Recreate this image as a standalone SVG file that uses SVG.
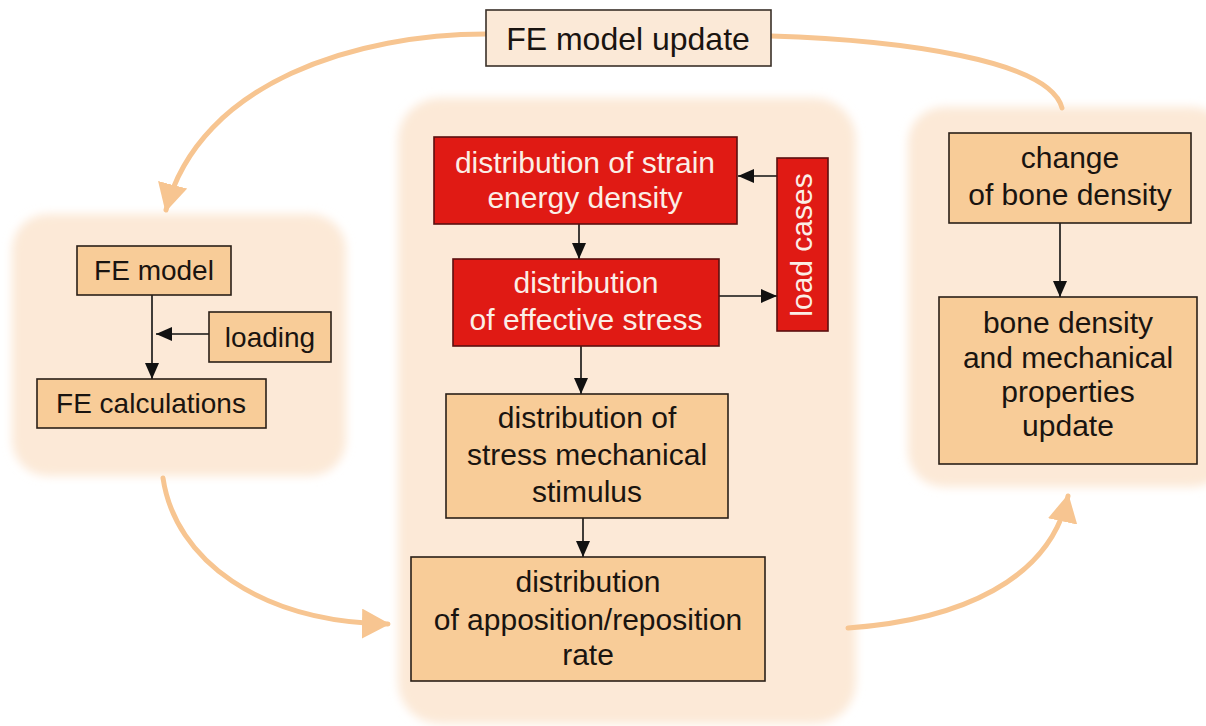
<svg xmlns="http://www.w3.org/2000/svg" width="1206" height="726" viewBox="0 0 1206 726">
<style>
.bg{fill:#fce9d7;filter:url(#soft)}
.box{fill:#f8cc98;stroke:#2a2018;stroke-width:1.6}
.top{fill:#fbe9d7;stroke:#3a3028;stroke-width:1.6}
.red{fill:#e01a14;stroke:#5a1010;stroke-width:1.6}
text{font-family:"Liberation Sans",Arial,sans-serif;font-size:30px;text-anchor:middle}
.dk{fill:#1a1410}
.wt{fill:#fbeee6}
.blk{stroke:#111;stroke-width:1.6;fill:none}
.pch{stroke:#f7c591;stroke-width:5;fill:none;stroke-linecap:round}
</style>
<defs>
<filter id="soft" x="-10%" y="-10%" width="120%" height="120%"><feGaussianBlur stdDeviation="5"/></filter>
<marker id="ab" viewBox="0 0 16 14" refX="16" refY="7" markerWidth="16" markerHeight="14" markerUnits="userSpaceOnUse" orient="auto"><path d="M0,0 L16,7 L0,14 z" fill="#111"/></marker>
<marker id="ap" viewBox="0 0 28 30" refX="26" refY="15" markerWidth="28" markerHeight="30" markerUnits="userSpaceOnUse" orient="auto"><path d="M0,0 L28,15 L0,30 z" fill="#f7c591"/></marker>
</defs>
<rect width="1206" height="726" fill="#fff"/>
<g id="containers">
<rect class="bg" x="12" y="214" width="334" height="262" rx="36"/>
<rect class="bg" x="398" y="98" width="458" height="626" rx="42"/>
<rect class="bg" x="908" y="107" width="320" height="380" rx="36"/>
</g>
<g id="connectors">
<path class="pch" d="M486 34 C360 34 200 80 166 210" marker-end="url(#ap)"/>
<path class="pch" d="M771 36 C900 40 1050 60 1062 108"/>
<path class="pch" d="M163 478 C175 560 260 622 388 624" marker-end="url(#ap)"/>
<path class="pch" d="M848 628 C960 620 1050 580 1068 496" marker-end="url(#ap)"/>
<path class="blk" d="M152 295 V379" marker-end="url(#ab)"/>
<path class="blk" d="M209 334 H156" marker-end="url(#ab)"/>
<path class="blk" d="M777 176 H738" marker-end="url(#ab)"/>
<path class="blk" d="M579 224 V259" marker-end="url(#ab)"/>
<path class="blk" d="M719 296 H777" marker-end="url(#ab)"/>
<path class="blk" d="M581 346 V394" marker-end="url(#ab)"/>
<path class="blk" d="M583 518 V557" marker-end="url(#ab)"/>
<path class="blk" d="M1060 223 V297" marker-end="url(#ab)"/>
</g>
<g id="fe-model-update"><rect class="top" x="486" y="10" width="285" height="56"/><text class="dk" x="628" y="50" style="font-size:32px">FE model update</text></g>
<g id="fe-model"><rect class="box" x="77" y="246" width="154" height="49"/><text class="dk" x="154" y="280" style="font-size:28px">FE model</text></g>
<g id="loading"><rect class="box" x="209" y="312" width="122" height="50"/><text class="dk" x="270" y="347" style="font-size:28px">loading</text></g>
<g id="fe-calculations"><rect class="box" x="37" y="379" width="229" height="49"/><text class="dk" x="151" y="413" style="font-size:28px">FE calculations</text></g>
<g id="strain-energy"><rect class="red" x="434" y="137" width="303" height="87"/><text class="wt" x="585" y="173">distribution of strain</text><text class="wt" x="585" y="208">energy density</text></g>
<g id="effective-stress"><rect class="red" x="453" y="259" width="266" height="87"/><text class="wt" x="586" y="293">distribution</text><text class="wt" x="586" y="330">of effective stress</text></g>
<g id="load-cases"><rect class="red" x="777" y="158" width="51" height="173"/><text class="wt" transform="translate(812 245) rotate(-90)" x="0" y="0">load cases</text></g>
<g id="stimulus"><rect class="box" x="446" y="394" width="282" height="124"/><text class="dk" x="587" y="428">distribution of</text><text class="dk" x="587" y="465">stress mechanical</text><text class="dk" x="587" y="502">stimulus</text></g>
<g id="apposition"><rect class="box" x="411" y="557" width="354" height="124"/><text class="dk" x="588" y="592">distribution</text><text class="dk" x="588" y="630">of apposition/reposition</text><text class="dk" x="588" y="665">rate</text></g>
<g id="change-density"><rect class="box" x="949" y="133" width="242" height="90"/><text class="dk" x="1070" y="168">change</text><text class="dk" x="1070" y="205">of bone density</text></g>
<g id="density-update"><rect class="box" x="939" y="297" width="258" height="167"/><text class="dk" x="1068" y="333">bone density</text><text class="dk" x="1068" y="368">and mechanical</text><text class="dk" x="1068" y="402">properties</text><text class="dk" x="1068" y="436">update</text></g>
</svg>
